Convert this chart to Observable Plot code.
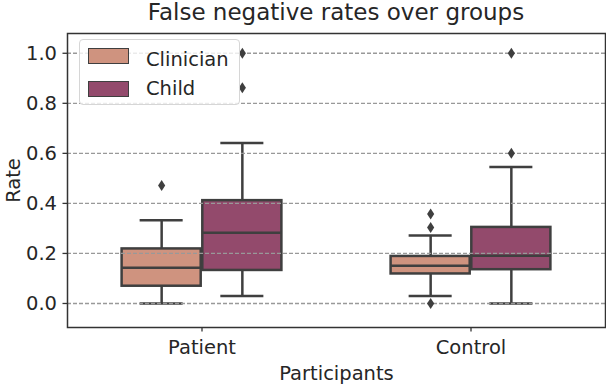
<!DOCTYPE html>
<html><head><meta charset="utf-8">
<script src="https://cdn.jsdelivr.net/npm/d3@7"></script>
<script src="https://cdn.jsdelivr.net/npm/@observablehq/plot@0.6"></script>
<style>
body{margin:0;background:#fff;font-family:"DejaVu Sans",sans-serif;color:#262626;}
#wrap{position:relative;width:606px;height:384px;overflow:hidden;}
#title{position:relative;height:32px;width:606px;}
#title span{position:absolute;left:336px;top:1px;transform:translateX(-50%);font-size:23px;line-height:1;white-space:nowrap;}
#legend{position:absolute;left:79px;top:39px;width:161px;height:66px;border:1px solid #d6d6d6;border-radius:4px;background:rgba(255,255,255,0.8);box-sizing:border-box;}
#legend .sw{position:absolute;left:8px;width:41px;height:16px;border:1.5px solid #3f3f3f;box-sizing:border-box;}
#legend .lb{position:absolute;left:66px;font-size:19.5px;line-height:1;white-space:nowrap;}
</style></head>
<body>
<div id="wrap">
  <div id="title"><span>False negative rates over groups</span></div>
  <div id="chart"></div>
  <div id="legend"></div>
</div>
<script>
const groups = ["Patient", "Control"];
const hues = ["Clinician", "Child"];
const hueColors = ["#cf937f", "#934a6c"];
const boxGroup = ["Patient", "Patient", "Control", "Control"];
const boxHue = ["Clinician", "Child", "Clinician", "Child"];
const whiskerLow = [0.0, 0.03, 0.03, 0.0];
const q1 = [0.069, 0.132, 0.118, 0.135];
const median = [0.143, 0.283, 0.151, 0.191];
const q3 = [0.218, 0.411, 0.188, 0.304];
const whiskerHigh = [0.333, 0.641, 0.272, 0.545];
const outlierGroup = ["Patient", "Patient", "Patient", "Control", "Control", "Control", "Control", "Control"];
const outlierHue = ["Clinician", "Child", "Child", "Clinician", "Clinician", "Clinician", "Child", "Child"];
const outlierValue = [0.472, 1.0, 0.862, 0.358, 0.304, 0.0, 1.0, 0.6];
const yTicks = [0.0, 0.2, 0.4, 0.6, 0.8, 1.0];

const dodge = 0.3, boxHalf = 0.147, capHalf = 0.08;
const pos = (g, h) => groups.indexOf(g) + (hues.indexOf(h) - 0.5) * dodge;

const boxes = boxGroup.map((g, i) => ({
  group: g, hue: boxHue[i], x: pos(g, boxHue[i]),
  lo: whiskerLow[i], q1: q1[i], med: median[i], q3: q3[i], hi: whiskerHigh[i]
}));
const outliers = outlierValue.map((v, i) => ({x: pos(outlierGroup[i], outlierHue[i]), y: v}));

const thinDiamond = {
  draw(ctx, size) {
    const r = Math.sqrt(size / Math.PI);
    const w = r * 0.65;
    ctx.moveTo(0, -r); ctx.lineTo(w, 0); ctx.lineTo(0, r); ctx.lineTo(-w, 0); ctx.closePath();
  }
};

const dark = "#3f3f3f";
const chart = Plot.plot({
  width: 606, height: 352,
  marginLeft: 67, marginRight: 1, marginTop: 1, marginBottom: 57,
  style: {fontFamily: "DejaVu Sans", fontSize: "19.5px", color: "#262626", background: "white", overflow: "visible"},
  x: {domain: [-0.5, 1.5], axis: null},
  y: {domain: [-0.096, 1.079], axis: null},
  color: {domain: hues, range: hueColors},
  marks: [
    Plot.ruleX(boxes, {x: "x", y1: "q3", y2: "hi", stroke: dark, strokeWidth: 2.5}),
    Plot.ruleX(boxes, {x: "x", y1: "lo", y2: "q1", stroke: dark, strokeWidth: 2.5}),
    Plot.ruleY(boxes, {y: "hi", x1: d => d.x - capHalf, x2: d => d.x + capHalf, stroke: dark, strokeWidth: 2.5}),
    Plot.ruleY(boxes, {y: "lo", x1: d => d.x - capHalf, x2: d => d.x + capHalf, stroke: dark, strokeWidth: 2.5}),
    Plot.rect(boxes, {x1: d => d.x - boxHalf, x2: d => d.x + boxHalf, y1: "q1", y2: "q3", fill: "hue", stroke: dark, strokeWidth: 2.5}),
    Plot.ruleY(boxes, {y: "med", x1: d => d.x - boxHalf, x2: d => d.x + boxHalf, stroke: dark, strokeWidth: 2.5}),
    Plot.ruleY(yTicks, {stroke: "#999", strokeWidth: 1.3, strokeDasharray: "4,2"}),
    Plot.dot(outliers, {x: "x", y: "y", r: 5.5, symbol: thinDiamond, fill: dark, stroke: "none"}),
    Plot.axisY(yTicks, {tickFormat: d3.format(".1f"), tickSize: 4.5, tickPadding: 6, stroke: "#333", strokeWidth: 1.3,
      label: "Rate", labelAnchor: "center", labelArrow: "none", labelOffset: 61}),
    Plot.axisX([0, 1], {tickFormat: i => groups[i], tickSize: 4.5, tickPadding: 8, stroke: "#333", strokeWidth: 1.3,
      label: "Participants", labelAnchor: "center", labelArrow: "none", labelOffset: 52}),
    Plot.frame({stroke: "#333", strokeWidth: 1.5})
  ]
});
document.getElementById("chart").appendChild(chart);

const legend = document.getElementById("legend");
const swTops = [8, 40.5], lbTops = [9.5, 38.5];
hues.forEach((h, i) => {
  const sw = document.createElement("div");
  sw.className = "sw"; sw.style.top = swTops[i] + "px"; sw.style.background = hueColors[i];
  legend.appendChild(sw);
  const lb = document.createElement("span");
  lb.className = "lb"; lb.style.top = lbTops[i] + "px"; lb.textContent = h;
  legend.appendChild(lb);
});
</script>
</body></html>
